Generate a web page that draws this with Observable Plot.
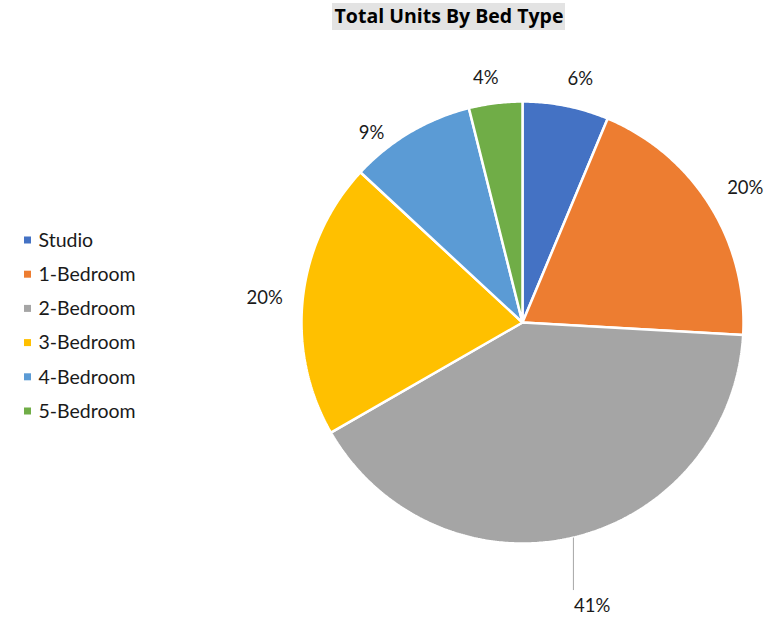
<!DOCTYPE html>
<html>
<head>
<meta charset="utf-8">
<script src="https://cdn.jsdelivr.net/npm/d3@7"></script>
<script src="https://cdn.jsdelivr.net/npm/@observablehq/plot@0.6"></script>
<style>
  html, body { margin: 0; padding: 0; background: #fff; }
  svg { display: block; }
</style>
</head>
<body>
<div id="chart"></div>
<script>
// ---- data ----
const title = "Total Units By Bed Type";
const categories = ["Studio", "1-Bedroom", "2-Bedroom", "3-Bedroom", "4-Bedroom", "5-Bedroom"];
const shares = [6.3, 19.6, 40.8, 20.2, 9.2, 3.9];
const labels = ["6%", "20%", "41%", "20%", "9%", "4%"];
const colors = ["#4472C4", "#ED7D31", "#A5A5A5", "#FFC000", "#5B9BD5", "#70AD47"];

// ---- layout ----
const W = 783, H = 617;
const cx = 522, cy = 322, R = 221;
const FONT = "Lato, 'Open Sans', sans-serif";
const TITLE_FONT = "'Open Sans', Lato, sans-serif";
// label placement: distance from centre and angle nudge (degrees), leader flag
const labelPlace = [
  {d: 250, da: 2, leader: false},
  {d: 260, da: 1, leader: false},
  {d: 292, da: -0.5, leader: true},
  {d: 259, da: -1, leader: false},
  {d: 242, da: -8, leader: false},
  {d: 247, da: -1.5, leader: false}
];

const data = categories.map((c, i) => ({cat: c, value: shares[i], label: labels[i]}));
const arcs = d3.pie().sort(null).value(d => d.value)(data);

const pt = (a, r) => ({x: cx + r * Math.sin(a), y: cy - r * Math.cos(a)});

// wedge outlines
const wedgePts = [];
arcs.forEach(a => {
  wedgePts.push({cat: a.data.cat, ...pt(0, 0)});
  const n = Math.max(2, Math.ceil((a.endAngle - a.startAngle) / (Math.PI / 360)));
  for (let k = 0; k <= n; k++) {
    const t = a.startAngle + (a.endAngle - a.startAngle) * k / n;
    wedgePts.push({cat: a.data.cat, ...pt(t, R)});
  }
  wedgePts.push({cat: a.data.cat, ...pt(0, 0)});
});

// labels
const labelPts = arcs.map((a, i) => {
  const mid = (a.startAngle + a.endAngle) / 2;
  const p = labelPlace[i];
  const lp = pt(mid + p.da * Math.PI / 180, p.d);
  return {label: a.data.label, x: lp.x, y: lp.y, leader: p.leader, mid};
});
const leaders = labelPts.filter(d => d.leader).map(d => {
  const s = pt(d.mid, R);
  return {x1: s.x, y1: s.y, x2: s.x, y2: d.y - 16};
});

// legend
const legend = categories.map((c, i) => ({cat: c, y: 240 + i * 34.2}));

const chart = Plot.plot({
  width: W, height: H,
  margin: 0,
  x: {domain: [0, W], range: [0, W], axis: null},
  y: {domain: [0, H], range: [0, H], axis: null},
  color: {domain: categories, range: colors},
  style: {fontFamily: FONT, background: "#fff"},
  marks: [
    // title
    Plot.rect([title], {x1: 332, x2: 565, y1: 3, y2: 30, fill: "#e3e3e3"}),
    Plot.text([title], {x: 448.5, y: 16.5, text: d => d, fontSize: 19.5, fontWeight: "bold", fontFamily: TITLE_FONT, fill: "#000"}),
    // pie
    Plot.line(wedgePts, {x: "x", y: "y", z: "cat", fill: "cat", stroke: "#fff", strokeWidth: 2.5, strokeLinejoin: "miter", curve: "linear"}),
    // leader lines
    Plot.link(leaders, {x1: "x1", y1: "y1", x2: "x2", y2: "y2", stroke: "#a6a6a6", strokeWidth: 1}),
    // labels
    Plot.text(labelPts, {x: "x", y: "y", text: "label", fontSize: 18.5, fill: "#1a1a1a"}),
    // legend
    Plot.rect(legend, {x1: 24, x2: 31, y1: d => d.y - 3.5, y2: d => d.y + 3.5, fill: "cat"}),
    Plot.text(legend, {x: 38, y: "y", text: "cat", textAnchor: "start", fontSize: 19.5, fill: "#1a1a1a"})
  ]
});
document.getElementById("chart").appendChild(chart);
</script>
</body>
</html>
